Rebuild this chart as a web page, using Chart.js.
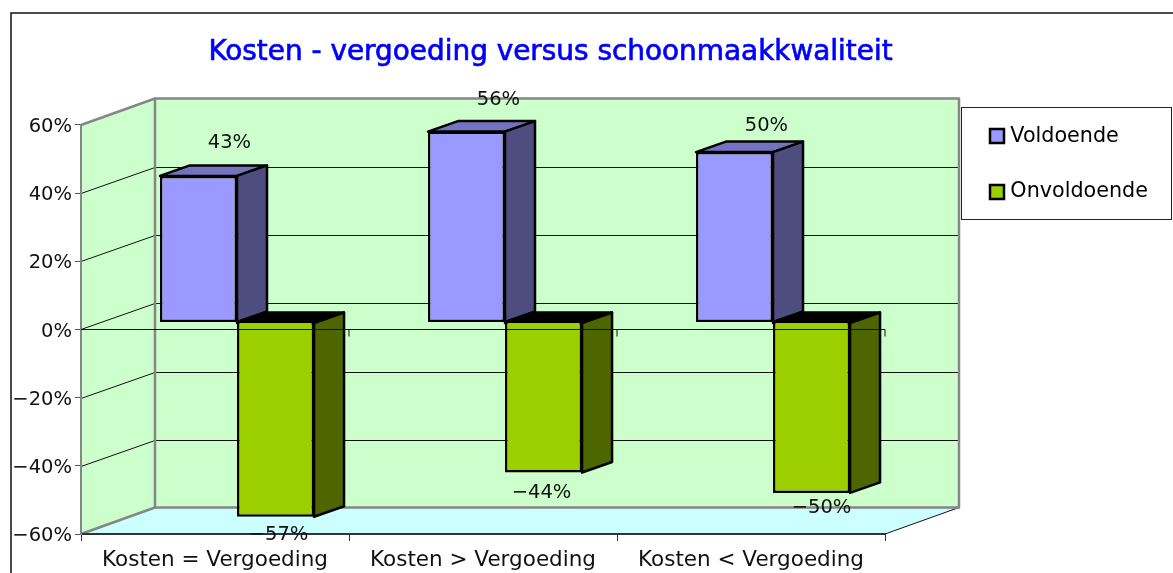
<!DOCTYPE html>
<html><head><meta charset="utf-8">
<style>html,body{margin:0;padding:0;background:#fff;overflow:hidden}canvas{display:block}</style>
<script src="https://cdn.jsdelivr.net/npm/chart.js@4"></script>
</head><body><canvas id="c" width="1173" height="573"></canvas>
<script>
const titleText = 'Kosten - vergoeding versus schoonmaakkwaliteit';
const categories = ['Kosten = Vergoeding', 'Kosten > Vergoeding', 'Kosten < Vergoeding'];
const voldoende = [43, 56, 50];
const onvoldoende = [-57, -44, -50];
const gridValues = [-40, -20, 0, 20, 40];
const FONT = '"DejaVu Sans"';
const pct = v => (v < 0 ? '\u2212' : '') + Math.abs(v) + '%';

const WALL = {dx: 74, dy: -26.5};
const BAR_SHIFT = {dx: 22, dy: -7};
const BAR_DEPTH = {dx: 30, dy: -10.5};
const labelNudge = [[[31, -33], [32, -32], [32, -26]], [[3, 18], [-2, 20], [10, 15]]];

function poly(ctx, pts, fill, stroke, lw) {
  ctx.beginPath();
  pts.forEach((p, i) => i ? ctx.lineTo(p[0], p[1]) : ctx.moveTo(p[0], p[1]));
  ctx.closePath();
  if (fill) { ctx.fillStyle = fill; ctx.fill(); }
  if (stroke) { ctx.strokeStyle = stroke; ctx.lineWidth = lw; ctx.lineJoin = 'round'; ctx.stroke(); }
}
function line(ctx, x0, y0, x1, y1, color, lw) {
  ctx.beginPath(); ctx.moveTo(x0, y0); ctx.lineTo(x1, y1);
  ctx.strokeStyle = color; ctx.lineWidth = lw; ctx.stroke();
}

const scene = {
  id: 'scene',
  afterLayout(chart) {
    const t = chart.titleBlock;
    t.left = 207; t.right = 894; t.width = 687; t.top = 36; t.bottom = 70; t.height = 34;
    const l = chart.legend;
    l.left = 965; l.right = 1173; l.width = 208; l.top = 91; l.bottom = 500; l.height = 409;
    const ys = chart.scales.y;
    if (!ys._shifted) {
      ys._shifted = true;
      const orig = ys.drawLabels;
      ys.drawLabels = function (area) {
        chart.ctx.save(); chart.ctx.translate(0, 2); orig.call(this, area); chart.ctx.restore();
      };
    }
  },
  beforeDraw(chart) {
    const c = chart.ctx, a = chart.chartArea, y = chart.scales.y;
    c.save();
    c.fillStyle = '#fff'; c.fillRect(0, 0, chart.width, chart.height);
    c.strokeStyle = '#111'; c.lineWidth = 1.5; c.strokeRect(11, 13, 1300, 800);
    const W = WALL;
    poly(c, [[a.left, a.top], [a.left + W.dx, a.top + W.dy], [a.left + W.dx, a.bottom + W.dy], [a.left, a.bottom]], '#ccffcc');
    poly(c, [[a.left, a.bottom], [a.left + W.dx, a.bottom + W.dy], [a.right + W.dx, a.bottom + W.dy], [a.right, a.bottom]], '#ccffff');
    poly(c, [[a.left + W.dx, a.top + W.dy], [a.right + W.dx, a.top + W.dy], [a.right + W.dx, a.bottom + W.dy], [a.left + W.dx, a.bottom + W.dy]], '#ccffcc');
    gridValues.forEach(v => {
      const p = Math.round(y.getPixelForValue(v)) + 0.5;
      const bp = p + Math.round(W.dy);
      line(c, a.left, p, a.left + W.dx, bp, '#111', 1);
      line(c, a.left + W.dx, bp, a.right + W.dx, bp, '#111', 1);
    });
    line(c, a.right, a.bottom, a.right + W.dx, a.bottom + W.dy, '#111', 1);
    poly(c, [[a.left + W.dx, a.top + W.dy], [a.right + W.dx, a.top + W.dy], [a.right + W.dx, a.bottom + W.dy], [a.left + W.dx, a.bottom + W.dy]], null, '#868686', 2.5);
    line(c, a.left, a.top, a.left + W.dx, a.top + W.dy, '#868686', 2.5);
    line(c, a.left, a.bottom, a.left + W.dx, a.bottom + W.dy, '#868686', 2.5);
    c.restore();
  },
  beforeDatasetDraw(chart, args) {
    const c = chart.ctx, ds = chart.data.datasets[args.index];
    c.save();
    c.translate(BAR_SHIFT.dx, BAR_SHIFT.dy);
    const D = BAR_DEPTH;
    args.meta.data.forEach(b => {
      const L = b.x - b.width / 2, R = b.x + b.width / 2;
      const T = Math.min(b.y, b.base), B = Math.max(b.y, b.base);
      poly(c, [[L, T], [L + D.dx, T + D.dy], [R + D.dx, T + D.dy], [R, T]], ds.topColor, '#000', 2.5);
      poly(c, [[R, T], [R + D.dx, T + D.dy], [R + D.dx, B + D.dy], [R, B]], ds.sideColor, '#000', 2.5);
    });
  },
  afterDatasetDraw(chart) { chart.ctx.restore(); },
  afterDatasetsDraw(chart) {
    const c = chart.ctx, a = chart.chartArea, y = chart.scales.y;
    c.save();
    const z = Math.round(y.getPixelForValue(0)) + 0.5;
    line(c, a.left, z, a.right, z, '#111', 1);
    const step = (a.right - a.left) / categories.length;
    for (let i = 1; i <= categories.length; i++) {
      line(c, a.left + i * step, z, a.left + i * step, z + 7, '#111', 1);
    }
    c.font = '19.5px ' + FONT; c.fillStyle = '#111'; c.textAlign = 'center'; c.textBaseline = 'middle';
    chart.data.datasets.forEach((ds, di) => {
      chart.getDatasetMeta(di).data.forEach((b, i) => {
        const n = labelNudge[di][i];
        c.fillText(pct(ds.data[i]), b.x + BAR_SHIFT.dx + n[0], b.y + BAR_SHIFT.dy + n[1]);
      });
    });
    c.restore();
  },
  afterDraw(chart) {
    const c = chart.ctx;
    c.save();
    c.font = '27.9px ' + FONT; c.strokeStyle = '#0000ff'; c.lineWidth = 0.7;
    c.textAlign = 'center'; c.textBaseline = 'middle';
    const t = chart.titleBlock;
    c.strokeText(titleText, (t.left + t.right) / 2, t.top + t.height / 2 - 0.26);
    c.strokeStyle = '#222'; c.lineWidth = 1; c.strokeRect(961.5, 107.5, 210, 112);
    chart.data.datasets.forEach((ds, i) => {
      const top = 129 + i * 56;
      c.fillStyle = ds.backgroundColor; c.strokeStyle = '#000'; c.lineWidth = 2.5;
      c.fillRect(990, top, 14, 14); c.strokeRect(990, top, 14, 14);
    });
    c.restore();
  }
};

new Chart(document.getElementById('c'), {
  type: 'bar',
  data: {
    labels: categories,
    datasets: [
      {label: 'Voldoende', data: voldoende, backgroundColor: '#9999ff', topColor: '#7373bf', sideColor: '#4d4d80', borderColor: '#000', borderWidth: 2.5, borderSkipped: false},
      {label: 'Onvoldoende', data: onvoldoende, backgroundColor: '#9ccf00', topColor: '#000', sideColor: '#4d6600', borderColor: '#000', borderWidth: {top: 0, left: 2.5, right: 2.5, bottom: 2.5}, borderSkipped: false}
    ]
  },
  options: {
    responsive: false, animation: false,
    layout: {padding: {top: 91.5, right: 288, bottom: 0, left: 0}},
    datasets: {bar: {categoryPercentage: 0.575, barPercentage: 1}},
    plugins: {
      tooltip: {enabled: false},
      title: {display: true, text: titleText, color: '#0000ff', padding: 0, font: {family: FONT, size: 27.9, weight: 'normal'}},
      legend: {
        display: true, position: 'chartArea', align: 'start', onClick: null,
        labels: {
          color: '#111', padding: 35, boxWidth: 0, boxHeight: 0, font: {family: FONT, size: 20.7},
          generateLabels: ch => ch.data.datasets.map((d, i) => ({text: d.label, fillStyle: 'transparent', strokeStyle: 'transparent', lineWidth: 0, datasetIndex: i}))
        }
      }
    },
    scales: {
      x: {
        stacked: false,
        afterFit: s => { s.height = 39; },
        grid: {drawOnChartArea: false, tickLength: 7, color: '#333', offset: true},
        border: {color: '#333', width: 2},
        ticks: {color: '#111', padding: 7, maxRotation: 0, autoSkip: false, font: {family: FONT, size: 21.5}}
      },
      y: {
        min: -60, max: 60,
        afterFit: s => { s.width = 81; },
        grid: {drawOnChartArea: false, tickLength: 6, color: '#555'},
        border: {color: '#868686', width: 2},
        ticks: {stepSize: 20, color: '#111', padding: 3, font: {family: FONT, size: 19.5}, callback: pct}
      }
    }
  },
  plugins: [scene]
});
</script></body></html>
